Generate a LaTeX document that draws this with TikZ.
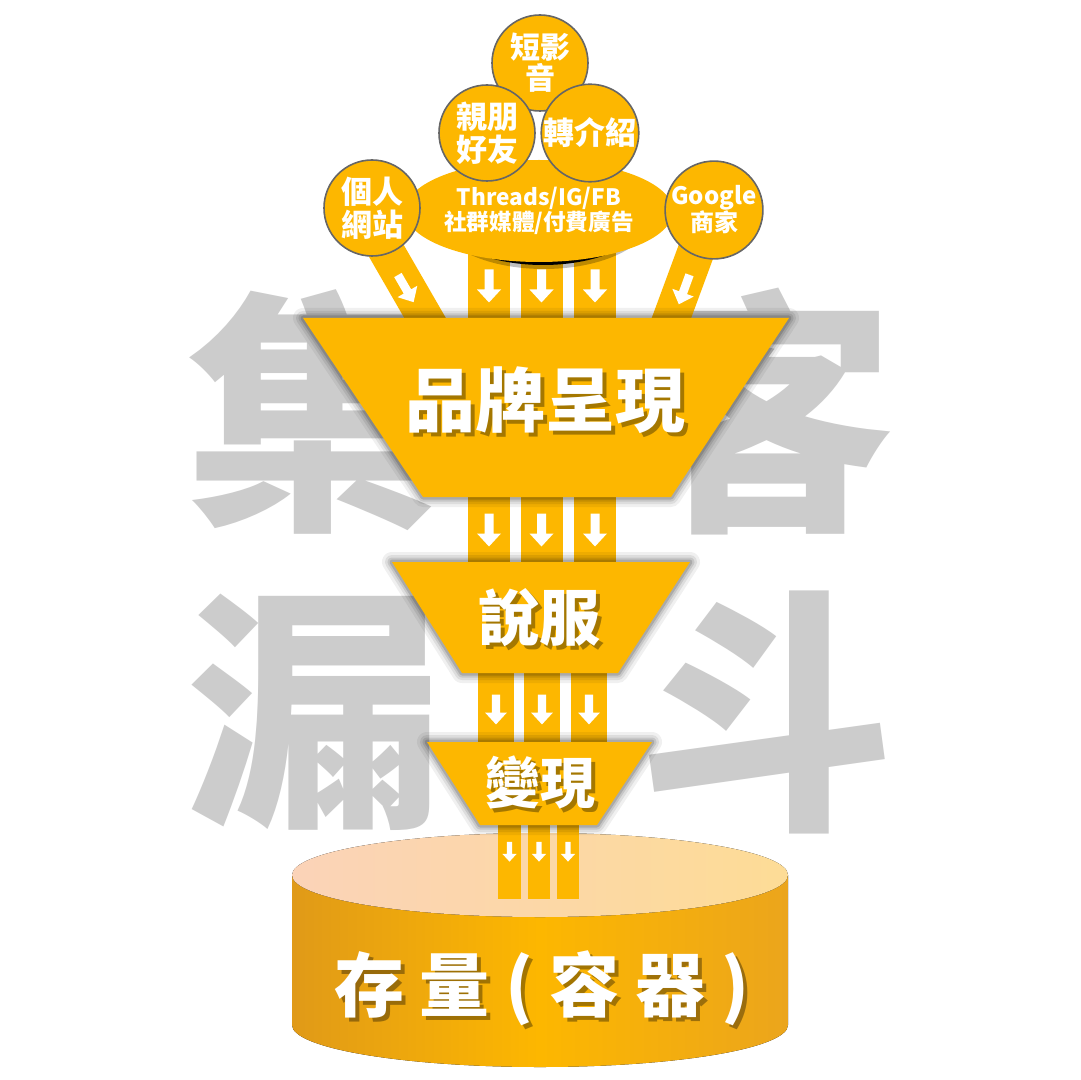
\documentclass[tikz,border=0pt]{standalone}
\usepackage{fontspec}
\setmainfont{Noto Sans CJK TC}
\usetikzlibrary{shapes.geometric,calc}
\definecolor{gold}{HTML}{FDB700}
\definecolor{bggray}{HTML}{CCCCCC}
\definecolor{cylL}{HTML}{E09A18}
\definecolor{cylR}{HTML}{EBA51C}
\definecolor{topL}{HTML}{FBD3B8}
\definecolor{topR}{HTML}{FDDC96}
\definecolor{edgegray}{HTML}{666666}
\newcommand\shnode[4]{%
  \node[#3, text=black, text opacity=0.35, xshift=2pt, yshift=-2pt] (#1s) at (#2) {#4};
  \node[#3, text=white] (#1) at (#2) {#4};}
\begin{document}
\begin{tikzpicture}[x=0.5pt,y=-0.5pt,
  bgch/.style={text=bggray, inner sep=0, font=\bfseries\fontsize{128}{130}\selectfont},
  band/.style={draw=gold, line cap=butt},
  darr/.pic={\fill[white] (-4.5,-17) -- (4.5,-17) -- (4.5,3) -- (12,3) -- (0,16) -- (-12,3) -- (-4.5,3) -- cycle;},
  funnelfill/.style={fill=gold},
  glow/.style={draw=black, line join=round},
  bub/.style={circle, fill=gold, draw=edgegray, line width=0.8pt, minimum size=48pt, inner sep=0,
    text=white, align=center, font=\bfseries\fontsize{15.5}{16.5}\selectfont},
  bigtxt/.style={inner sep=0, align=center},
]
\useasboundingbox (0,0) rectangle (1080,1080);
\fill[white] (0,0) rectangle (1080,1080);

% background characters
\node[bgch] (ch1) at (313,412) {集};
\node[bgch] (ch2) at (767,412) {客};
\node[bgch] (ch3) at (313,712) {漏};
\node[bgch] (ch4) at (767,712) {斗};

% cylinder
\fill[left color=cylL, right color=cylR, middle color=gold]
  (292,875) -- (292,1025) arc[start angle=180, end angle=0, x radius=248, y radius=42] -- (788,875) -- cycle;
\fill[left color=topL, right color=topR] (540,875) ellipse[x radius=248, y radius=42];

% coordinates of sources
\coordinate (pShort) at (540,63);
\coordinate (pFriend) at (487,133);
\coordinate (pRefer) at (590,133);
\coordinate (pSocial) at (539,211);
\coordinate (pSite) at (372,208);
\coordinate (pGoogle) at (714,210);

% top bands
\coordinate (ls) at (357,200); \coordinate (le) at (432,330);
\coordinate (rs) at (715,200); \coordinate (re) at (667,330);
\draw[band, line width=18pt] (ls) -- (le);
\draw[band, line width=18.5pt] (rs) -- (re);
\foreach \x in {489,541.5,595}{
  \draw[band, line width=21pt] (\x,220) -- (\x,330);
  \draw[band, line width=21pt] (\x,490) -- (\x,570);
  \pic at (\x,286.5) {darr};
  \pic at (\x,530.5) {darr};
}
\pic[rotate=30, scale=0.95] at (406,289) {darr};
\pic[rotate=-20, scale=0.95] at (684,290) {darr};
\foreach \x in {496,542,589}{
  \draw[band, line width=18pt] (\x,665) -- (\x,750);
  \pic[scale=0.9] at (\x,710) {darr};
}
\foreach \x in {509.5,539,568}{
  \draw[band, line width=11.3pt] (\x,815) -- (\x,899);
  \pic[scale=0.6] at (\x,852) {darr};
}

% funnel stages
\foreach \w/\o in {10/0.06, 7/0.08, 4.5/0.1, 2.5/0.14}{
  \draw[glow, line width=\w pt, draw opacity=\o] (303,318) -- (789,318) -- (671,497) -- (423,497) -- cycle;
  \draw[glow, line width=\w pt, draw opacity=\o] (392,562) -- (690,562) -- (618,673) -- (462,673) -- cycle;
  \draw[glow, line width=\w pt, draw opacity=\o] (427,742) -- (652,742) -- (597,825) -- (480,825) -- cycle;
}
\fill[funnelfill] (303,318) -- (789,318) -- (671,497) -- (423,497) -- cycle;
\fill[funnelfill] (392,562) -- (690,562) -- (618,673) -- (462,673) -- cycle;
\fill[funnelfill] (427,742) -- (652,742) -- (597,825) -- (480,825) -- cycle;

% social ellipse with shadow
\draw[black, line width=3pt, draw opacity=0.25] ($(pSocial)+(5,4)$) ellipse[x radius=105, y radius=51];
\node[ellipse, fill=black, minimum width=105pt, minimum height=51pt, inner sep=0, xshift=2pt, yshift=-1.5pt] (socialsh) at (pSocial) {};
\node[ellipse, fill=gold, minimum width=105pt, minimum height=51pt, inner sep=0,
  text=white, align=center, font=\bfseries\fontsize{11.3}{11.5}\selectfont] (social) at (pSocial) {Threads/IG/FB\\社群媒體/付費廣告};

% circles
\node[bub, font=\bfseries\fontsize{15}{15.5}\selectfont] (short) at (pShort) {短影\\音};
\node[bub] (friend) at (pFriend) {親朋\\好友};
\node[bub] (refer) at (pRefer) {轉介紹};
\node[bub] (site) at (pSite) {個人\\網站};
\node[bub, font=\bfseries\fontsize{12}{13.5}\selectfont] (google) at (pGoogle) {Google\\商家};

% stage texts
\shnode{brand}{545,400}{bigtxt, font=\bfseries\fontsize{35}{36}\selectfont}{品牌呈現}
\shnode{persuade}{539,618}{bigtxt, font=\bfseries\fontsize{30.5}{32}\selectfont}{說服}
\shnode{monetize}{540,782}{bigtxt, font=\bfseries\fontsize{27.5}{29}\selectfont}{變現}
\shnode{store}{542,988}{bigtxt, font=\bfseries\fontsize{35}{36}\selectfont}{存\hspace{8pt}量\hspace{8pt}(\hspace{8pt}容\hspace{8pt}器\hspace{8pt})}
\end{tikzpicture}
\end{document}
